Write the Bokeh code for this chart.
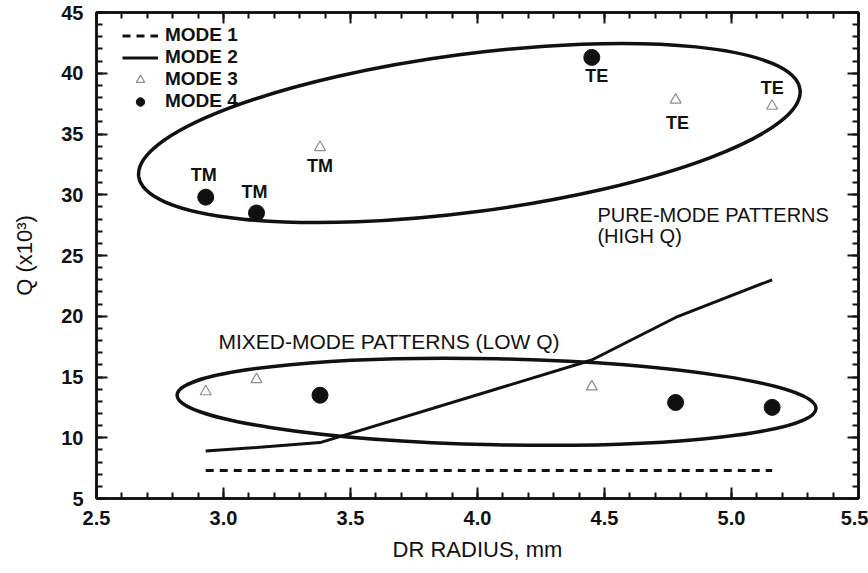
from bokeh.plotting import figure
from bokeh.models import (Range1d, LinearAxis, Legend, LegendItem,
                          SingleIntervalTicker, PrintfTickFormatter)
from bokeh.core.properties import value
from bokeh.embed import file_html
from bokeh.resources import INLINE

# ---------------- data ----------------
RADIUS = [2.93, 3.13, 3.38, 4.45, 4.78, 5.16]          # DR radius, mm
MODE1_Q = [7.3, 7.3, 7.3, 7.3, 7.3, 7.3]               # Q (x10^3)
MODE2_Q = [8.9, 9.2, 9.6, 16.4, 19.9, 23.0]
MODE3_Q = [13.8, 14.8, 33.9, 14.2, 37.8, 37.3]
MODE4_Q = [29.8, 28.5, 13.5, 41.3, 12.9, 12.5]
MODE_NAMES = ["MODE 1", "MODE 2", "MODE 3", "MODE 4"]

X_TICK_LABELS = ["2.5", "3.0", "3.5", "4.0", "4.5", "5.0", "5.5"]
Y_TICK_LABELS = ["5", "10", "15", "20", "25", "30", "35", "40", "45"]
X_TITLE = "DR RADIUS, mm"
Y_TITLE = "Q (x10\u00b3)"

# point tags: (text, index into RADIUS, series)
POINT_TAGS = [("TM", 0, "MODE 4"), ("TM", 1, "MODE 4"), ("TM", 2, "MODE 3"),
              ("TE", 3, "MODE 4"), ("TE", 4, "MODE 3"), ("TE", 5, "MODE 3")]
PURE_TEXT = ["PURE-MODE PATTERNS", "(HIGH Q)"]
MIXED_TEXT = "MIXED-MODE PATTERNS (LOW Q)"

SERIES = {"MODE 1": MODE1_Q, "MODE 2": MODE2_Q, "MODE 3": MODE3_Q, "MODE 4": MODE4_Q}

FONT_NAME = "Liberation Sans"
FONT = value(FONT_NAME)
INK = "#111111"

x_lo, x_hi = float(X_TICK_LABELS[0]), float(X_TICK_LABELS[-1])
y_lo, y_hi = float(Y_TICK_LABELS[0]), float(Y_TICK_LABELS[-1])

p = figure(width=868, height=573, x_range=Range1d(x_lo, x_hi), y_range=Range1d(y_lo, y_hi),
           output_backend="svg", toolbar_location=None,
           min_border_left=96, min_border_right=10, min_border_top=12, min_border_bottom=75,
           background_fill_color="white", border_fill_color="white")
p.xgrid.visible = False
p.ygrid.visible = False
p.outline_line_color = INK
p.outline_line_width = 2.5

xt = SingleIntervalTicker(interval=0.5, num_minor_ticks=5)
yt = SingleIntervalTicker(interval=5, num_minor_ticks=5)
p.xaxis.ticker = xt
p.yaxis.ticker = yt
p.xaxis.formatter = PrintfTickFormatter(format="%.1f")
p.yaxis.formatter = PrintfTickFormatter(format="%d")


def style_ticks(ax):
    ax.axis_line_width = 2.5
    ax.axis_line_color = INK
    ax.major_tick_in = 11
    ax.major_tick_out = 0
    ax.minor_tick_in = 6
    ax.minor_tick_out = 0
    ax.major_tick_line_width = 2
    ax.minor_tick_line_width = 2
    ax.major_tick_line_color = INK
    ax.minor_tick_line_color = INK


for ax in (p.xaxis[0], p.yaxis[0]):
    style_ticks(ax)
    ax.major_label_text_font = FONT_NAME
    ax.major_label_text_font_size = "20px"
    ax.major_label_text_font_style = "bold"
    ax.major_label_text_color = INK
    ax.axis_label_text_font = FONT_NAME
    ax.axis_label_text_font_size = "22px"
    ax.axis_label_text_font_style = "normal"
    ax.axis_label_text_color = INK

p.xaxis.axis_label = X_TITLE
p.yaxis.axis_label = Y_TITLE
p.xaxis.major_label_standoff = 12
p.yaxis.major_label_standoff = 13
p.xaxis.axis_label_standoff = 9
p.yaxis.axis_label_standoff = 21

# mirrored tick marks on the top and right
for place, tk in (("above", xt), ("right", yt)):
    ax = LinearAxis(ticker=tk)
    style_ticks(ax)
    ax.major_label_text_color = None
    p.add_layout(ax, place)

# ---------------- series ----------------
r1 = p.line(RADIUS, SERIES["MODE 1"], line_color=INK, line_width=3, line_dash="8 6")
r2 = p.line(RADIUS, SERIES["MODE 2"], line_color=INK, line_width=3)
r3 = p.scatter(RADIUS, SERIES["MODE 3"], marker="triangle", size=11, fill_color=None,
               line_color="#8c8c8c", line_width=1.2)
r4 = p.scatter(RADIUS, SERIES["MODE 4"], marker="circle", size=16, fill_color=INK,
               line_color=INK)

# ---------------- grouping ellipses (annotations) ----------------
p.ellipse(x=[3.968], y=[35.08], width=[667], height=[158], angle=[0.131],
          width_units="screen", height_units="screen",
          fill_color=None, line_color=INK, line_width=3.5)
p.ellipse(x=[4.075], y=[12.96], width=[639], height=[86], angle=[-0.021],
          width_units="screen", height_units="screen",
          fill_color=None, line_color=INK, line_width=3.5)

# ---------------- point tags ----------------
tag_x, tag_y, tag_t, tag_dx, tag_dy = [], [], [], [], []
offsets = [(-2, -22), (-2, -21), (0, 19), (5, 19), (2, 23), (0, -18)]
for (txt, i, s), (dx, dy) in zip(POINT_TAGS, offsets):
    tag_x.append(RADIUS[i])
    tag_y.append(SERIES[s][i])
    tag_t.append(txt)
    tag_dx.append(dx)
    tag_dy.append(dy)
p.text(x=tag_x, y=tag_y, text=tag_t, x_offset=tag_dx, y_offset=tag_dy,
       text_align="center", text_baseline="middle", text_font=FONT,
       text_font_size="18px", text_font_style="bold", text_color=INK)

p.text(x=[4.472, 4.472], y=[28.35, 26.6], text=PURE_TEXT,
       text_align="left", text_baseline="middle", text_font=FONT,
       text_font_size="20px", text_color=INK)
p.text(x=[2.98], y=[17.9], text=[MIXED_TEXT],
       text_align="left", text_baseline="middle", text_font=FONT,
       text_font_size="21px", text_color=INK)

# ---------------- legend ----------------
legend = Legend(items=[LegendItem(label=MODE_NAMES[k], renderers=[r])
                       for k, r in enumerate((r1, r2, r3, r4))],
                location=(26, 386), glyph_width=36, glyph_height=21,
                label_height=21, spacing=0, padding=0, margin=0, label_standoff=7,
                label_text_font=FONT_NAME, label_text_font_size="19px",
                label_text_font_style="bold", label_text_color=INK,
                border_line_color=None, background_fill_color=None)
p.add_layout(legend)

open("out.html", "w").write(file_html(p, INLINE))
